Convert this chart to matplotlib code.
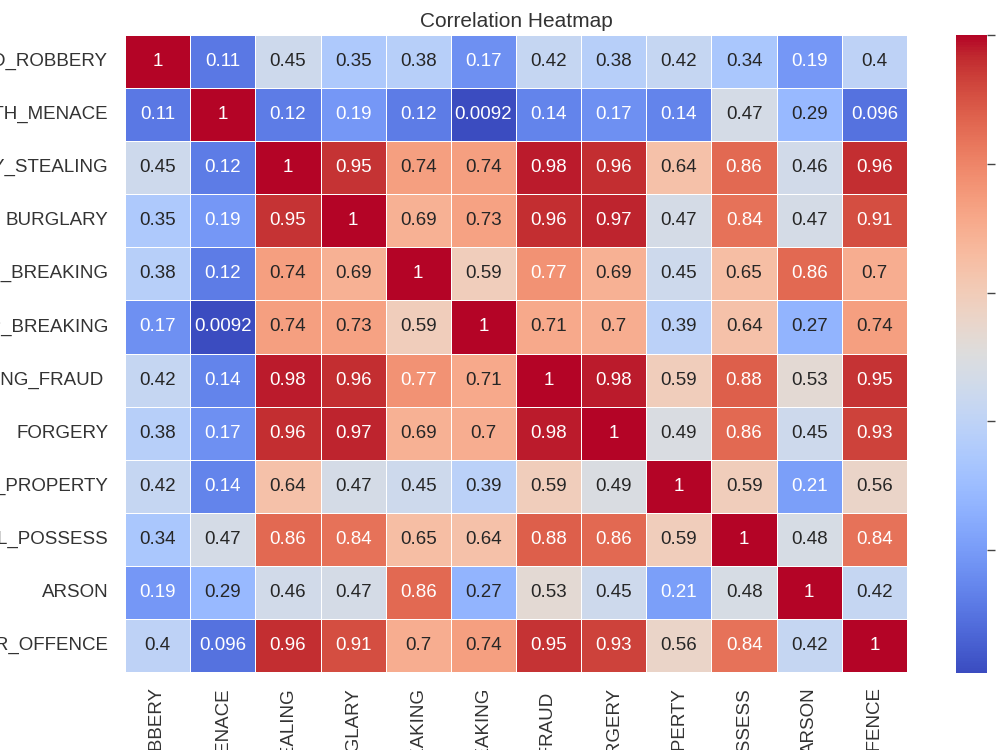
import numpy as np
import matplotlib
matplotlib.use("Agg")
import matplotlib.pyplot as plt
import seaborn as sns

labels = ["ARMED_ROBBERY", "DEMAND_WITH_MENACE", "PROPERTY_STEALING", "BURGLARY",
          "HOUSE_BREAKING", "SHOP_BREAKING", "CHEATING_FRAUD ", "FORGERY",
          "DAMAGE_TO_PROPERTY", "UNLAWFUL_POSSESS", "ARSON", "OTHER_OFFENCE"]

row_armed_robbery = [1, 0.11, 0.45, 0.35, 0.38, 0.17, 0.42, 0.38, 0.42, 0.34, 0.19, 0.4]
row_menace        = [0.11, 1, 0.12, 0.19, 0.12, 0.0092, 0.14, 0.17, 0.14, 0.47, 0.29, 0.096]
row_stealing      = [0.45, 0.12, 1, 0.95, 0.74, 0.74, 0.98, 0.96, 0.64, 0.86, 0.46, 0.96]
row_burglary      = [0.35, 0.19, 0.95, 1, 0.69, 0.73, 0.96, 0.97, 0.47, 0.84, 0.47, 0.91]
row_house_break   = [0.38, 0.12, 0.74, 0.69, 1, 0.59, 0.77, 0.69, 0.45, 0.65, 0.86, 0.7]
row_shop_break    = [0.17, 0.0092, 0.74, 0.73, 0.59, 1, 0.71, 0.7, 0.39, 0.64, 0.27, 0.74]
row_fraud         = [0.42, 0.14, 0.98, 0.96, 0.77, 0.71, 1, 0.98, 0.59, 0.88, 0.53, 0.95]
row_forgery       = [0.38, 0.17, 0.96, 0.97, 0.69, 0.7, 0.98, 1, 0.49, 0.86, 0.45, 0.93]
row_property      = [0.42, 0.14, 0.64, 0.47, 0.45, 0.39, 0.59, 0.49, 1, 0.59, 0.21, 0.56]
row_possess       = [0.34, 0.47, 0.86, 0.84, 0.65, 0.64, 0.88, 0.86, 0.59, 1, 0.48, 0.84]
row_arson         = [0.19, 0.29, 0.46, 0.47, 0.86, 0.27, 0.53, 0.45, 0.21, 0.48, 1, 0.42]
row_other         = [0.4, 0.096, 0.96, 0.91, 0.7, 0.74, 0.95, 0.93, 0.56, 0.84, 0.42, 1]

corr = np.array([row_armed_robbery, row_menace, row_stealing, row_burglary,
                 row_house_break, row_shop_break, row_fraud, row_forgery,
                 row_property, row_possess, row_arson, row_other])

sns.set_theme(style="white")
plt.rcParams['font.family'] = ['Liberation Sans', 'DejaVu Sans']
text_col = '#333333'

fig = plt.figure(figsize=(10, 7.5), dpi=100)
ax = fig.add_axes([0.125, 1 - 672 / 750, 0.782, 637 / 750])
cax = fig.add_axes([0.956, 1 - 673 / 750, 0.031, 638 / 750])

sns.heatmap(corr, ax=ax, cbar_ax=cax, cmap='coolwarm', annot=True,
            vmin=corr.min(), vmax=corr.max(),
            linewidths=0.6, linecolor='white',
            xticklabels=labels, yticklabels=labels,
            annot_kws={'fontsize': 13.5})

ax.set_title('Correlation Heatmap', fontsize=15, color=text_col, pad=6)
ax.tick_params(axis='y', length=0, pad=12, labelsize=13.5, labelcolor=text_col)
ax.tick_params(axis='x', length=0, pad=11, labelsize=13.5, labelcolor=text_col)
plt.setp(ax.get_xticklabels(), rotation=90)
plt.setp(ax.get_yticklabels(), rotation=0)

cax.set_yticks([0.2, 0.4, 0.6, 0.8, 1.0])
cax.tick_params(axis='y', length=6, width=1, color='#444444', labelsize=13.5,
                labelcolor=text_col, right=True)
for s in cax.spines.values():
    s.set_visible(False)

fig.savefig('out.png', dpi=100)
